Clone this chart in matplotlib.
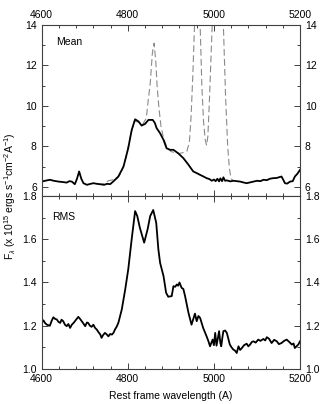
import numpy as np
import matplotlib
matplotlib.use('Agg')
import matplotlib.pyplot as plt
from matplotlib.ticker import MultipleLocator, FormatStrFormatter

plt.rcParams['font.family'] = ['Liberation Sans', 'DejaVu Sans']
plt.rcParams['mathtext.fontset'] = 'custom'
plt.rcParams['mathtext.rm'] = 'Liberation Sans'
plt.rcParams['mathtext.it'] = 'Liberation Sans:italic'
plt.rcParams['font.size'] = 7.5

# mean spectrum (solid)
mean_wl = [4600, 4608, 4619, 4628, 4639, 4648, 4658, 4664, 4670, 4677, 4682, 4687, 4692,
           4697, 4705, 4712, 4720, 4728, 4735, 4745, 4752, 4759, 4766, 4778, 4790, 4801,
           4809, 4817, 4825, 4832, 4840, 4848, 4858, 4863, 4867, 4875, 4883, 4890, 4898,
           4906, 4917, 4929, 4941, 4952, 4960, 4968, 4975, 4983, 4990, 4995, 5000, 5004,
           5008, 5012, 5015, 5019, 5022, 5026, 5030, 5038, 5045, 5053, 5061, 5068, 5076,
           5084, 5092, 5100, 5108, 5115, 5123, 5130, 5138, 5146, 5152, 5157, 5161, 5165,
           5170, 5177, 5183, 5188, 5194, 5200]
mean_flux = [6.26, 6.30, 6.35, 6.30, 6.26, 6.24, 6.21, 6.28, 6.26, 6.13, 6.40, 6.76, 6.40,
             6.18, 6.10, 6.14, 6.18, 6.15, 6.13, 6.10, 6.15, 6.13, 6.26, 6.51, 7.00, 7.91,
             8.81, 9.34, 9.23, 9.03, 9.11, 9.31, 9.31, 9.15, 8.90, 8.65, 8.32, 7.91, 7.83,
             7.83, 7.66, 7.42, 7.09, 6.76, 6.68, 6.59, 6.52, 6.43, 6.38, 6.30, 6.36, 6.28,
             6.40, 6.27, 6.42, 6.28, 6.47, 6.30, 6.32, 6.27, 6.30, 6.28, 6.26, 6.22, 6.18,
             6.22, 6.26, 6.30, 6.28, 6.35, 6.33, 6.40, 6.43, 6.44, 6.48, 6.51, 6.35, 6.18,
             6.16, 6.26, 6.28, 6.51, 6.65, 6.84]

# mean spectrum with narrow lines (dashed)
nl_wl = [4730, 4745, 4755, 4765, 4775, 4785, 4795, 4805, 4815, 4825, 4835, 4843, 4847,
         4852, 4857, 4861, 4865, 4868, 4872, 4877, 4883, 4890, 4900, 4910, 4920, 4930,
         4937, 4943, 4947, 4951, 4955, 4961, 4968, 4972, 4976, 4980, 4983, 4986, 4990,
         4996, 5002, 5008, 5015, 5022, 5027, 5032, 5036, 5040, 5045]
nl_flux = [6.12, 6.15, 6.30, 6.35, 6.40, 6.70, 7.40, 8.40, 9.25, 9.20, 9.10, 9.40, 10.2,
           11.1, 12.6, 13.1, 12.2, 11.0, 9.97, 9.0, 8.4, 8.0, 7.75, 7.68, 7.65, 7.70,
           7.75, 8.2, 9.5, 11.5, 14.0, 18.0, 14.0, 11.0, 9.2, 8.3, 8.05, 8.5, 10.5,
           14.0, 25.0, 35.0, 25.0, 14.0, 10.5, 8.0, 6.9, 6.4, 6.3]

# rms spectrum
rms_wl = [4600, 4604, 4608, 4612, 4619, 4623, 4627, 4631, 4635, 4639, 4643, 4646, 4650,
          4654, 4658, 4662, 4666, 4670, 4674, 4680, 4685, 4689, 4693, 4697, 4701, 4705,
          4708, 4712, 4716, 4720, 4724, 4728, 4732, 4736, 4739, 4743, 4747, 4751, 4755,
          4759, 4763, 4767, 4770, 4774, 4778, 4786, 4794, 4801, 4809, 4817, 4822, 4828,
          4838, 4846, 4852, 4859, 4866, 4871, 4875, 4883, 4889, 4894, 4902, 4906, 4910,
          4914, 4917, 4920, 4925, 4929, 4933, 4941, 4948, 4952, 4956, 4960, 4964, 4968,
          4975, 4983, 4987, 4991, 4994, 4997, 5000, 5003, 5006, 5009, 5012, 5015, 5017,
          5020, 5022, 5026, 5030, 5037, 5041, 5045, 5049, 5053, 5057, 5061, 5065, 5070,
          5076, 5080, 5084, 5088, 5092, 5097, 5103, 5108, 5115, 5119, 5123, 5128, 5134,
          5140, 5146, 5151, 5157, 5163, 5169, 5175, 5181, 5185, 5188, 5192, 5196, 5200]
rms_flux = [1.213, 1.225, 1.212, 1.205, 1.200, 1.222, 1.239, 1.232, 1.229, 1.218, 1.213,
            1.228, 1.221, 1.205, 1.198, 1.208, 1.190, 1.205, 1.213, 1.228, 1.241, 1.232,
            1.221, 1.210, 1.198, 1.215, 1.213, 1.200, 1.195, 1.205, 1.190, 1.182, 1.170,
            1.160, 1.144, 1.158, 1.167, 1.160, 1.151, 1.162, 1.159, 1.168, 1.182, 1.195,
            1.213, 1.275, 1.368, 1.460, 1.600, 1.730, 1.707, 1.653, 1.584, 1.646, 1.707,
            1.735, 1.676, 1.553, 1.491, 1.429, 1.352, 1.334, 1.337, 1.383, 1.380, 1.391,
            1.385, 1.400, 1.375, 1.370, 1.337, 1.259, 1.205, 1.230, 1.256, 1.221, 1.245,
            1.236, 1.190, 1.151, 1.130, 1.105, 1.120, 1.136, 1.110, 1.167, 1.108, 1.140,
            1.175, 1.120, 1.105, 1.150, 1.175, 1.178, 1.167, 1.113, 1.100, 1.090, 1.085,
            1.074, 1.105, 1.088, 1.097, 1.110, 1.117, 1.105, 1.113, 1.125, 1.128, 1.122,
            1.136, 1.130, 1.139, 1.132, 1.147, 1.140, 1.120, 1.135, 1.128, 1.115, 1.120,
            1.130, 1.136, 1.125, 1.113, 1.118, 1.097, 1.105, 1.113, 1.128]

fig = plt.figure(figsize=(3.27, 4.04), dpi=100)
ax1 = fig.add_axes([0.1275, 0.515, 0.79, 0.423])
ax2 = fig.add_axes([0.1275, 0.0866, 0.79, 0.4284])

ax1.plot(nl_wl, nl_flux, color='#8a8a8a', lw=0.8, dashes=(6, 3))
ax1.plot(mean_wl, mean_flux, color='black', lw=1.3)
ax2.plot(rms_wl, rms_flux, color='black', lw=1.3)

ax1.set_xlim(4600, 5200)
ax1.set_ylim(5.55, 14)
ax2.set_xlim(4600, 5200)
ax2.set_ylim(1.0, 1.8)

for ax in (ax1, ax2):
    ax.xaxis.set_major_locator(MultipleLocator(200))
    ax.xaxis.set_minor_locator(MultipleLocator(40))
    ax.tick_params(which='both', direction='in', top=True, right=True,
                   labelright=True, color='#404040')
    ax.tick_params(which='major', length=4, width=0.7)
    ax.tick_params(which='minor', length=2.5, width=0.7)
    for s in ax.spines.values():
        s.set_color('#404040')
        s.set_linewidth(0.8)

ax1.yaxis.set_major_locator(MultipleLocator(2))
ax1.yaxis.set_minor_locator(MultipleLocator(1))
ax1.tick_params(labeltop=True, labelbottom=False)
ax2.yaxis.set_major_locator(MultipleLocator(0.2))
ax2.yaxis.set_minor_locator(MultipleLocator(0.1))
ax2.yaxis.set_major_formatter(FormatStrFormatter('%.1f'))

ax1.text(0.055, 0.9, 'Mean', transform=ax1.transAxes, fontsize=7.5, va='center')
ax2.text(0.04, 0.88, 'RMS', transform=ax2.transAxes, fontsize=7.5, va='center')

ax2.set_xlabel('Rest frame wavelength (A)', fontsize=7.5, labelpad=5)
fig.text(0.03, 0.515,
         r'F$_\lambda$ ($\mathregular{x}$ 10$^{15}$ ergs s$^{-1}$cm$^{-2}$A$^{-1}$)',
         rotation=90, ha='center', va='center', fontsize=7.5)

plt.savefig('out.png', dpi=100)
